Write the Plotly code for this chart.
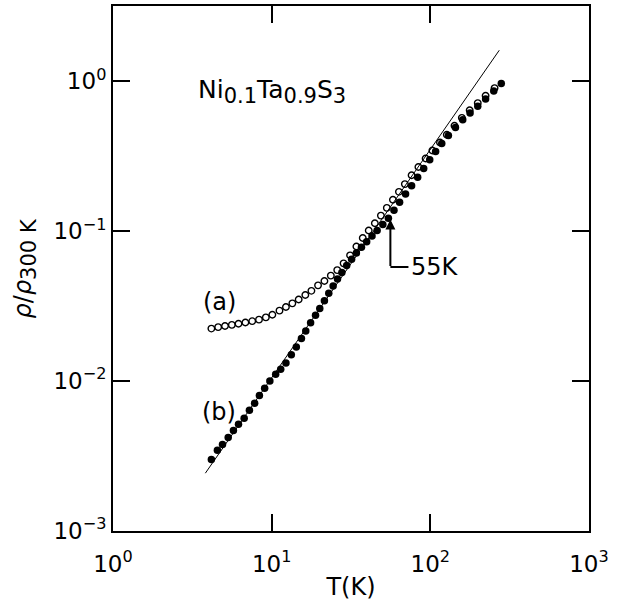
import math
import plotly.graph_objects as go

# ---- data (T in K, rho/rho300K) ----
T_a = [4.17, 4.60, 5.08, 5.61, 6.18, 6.83, 7.54, 8.32, 9.19, 10.1, 11.2, 12.3,
       13.5, 14.8, 16.3, 17.8, 19.6, 21.5, 23.6, 25.9, 28.4, 31.2, 34.2, 37.5,
       40.9, 44.7, 48.8, 53.2, 58.1, 63.4, 69.1, 76.2, 84.1, 93.4, 103, 115,
       127, 142, 158, 177, 199, 223, 254]
rho_a = [0.0224, 0.0229, 0.0233, 0.0237, 0.0241, 0.0246, 0.0251, 0.0257, 0.0266,
         0.0277, 0.0295, 0.0312, 0.0330, 0.0350, 0.0375, 0.0400, 0.0435, 0.0465,
         0.0505, 0.0550, 0.0610, 0.0690, 0.0790, 0.0900, 0.1010, 0.1130, 0.1270,
         0.1430, 0.1620, 0.1830, 0.2060, 0.2360, 0.2680, 0.3050, 0.3450, 0.3900,
         0.4400, 0.5050, 0.5700, 0.6400, 0.7150, 0.8000, 0.9000]

T_b = [4.17, 4.55, 4.90, 5.32, 5.74, 6.18, 6.71, 7.24, 7.81, 8.37, 9.03, 9.74,
       10.6, 11.4, 12.3, 13.3, 14.3, 15.4, 16.4, 17.6, 18.9, 20.1, 21.5, 22.9,
       24.4, 26.0, 27.7, 29.7, 31.9, 34.2, 36.8, 39.7, 42.9, 46.2, 50.2, 54.4,
       59.0, 64.0, 69.8, 76.2, 83.2, 90.8, 99.1, 108, 118, 130, 144, 160, 178,
       199, 223, 251, 280]
rho_b = [0.00300, 0.00346, 0.00378, 0.00420, 0.00468, 0.00516, 0.00565, 0.00640,
         0.00712, 0.00800, 0.00895, 0.0100, 0.0111, 0.0120, 0.0132, 0.0150,
         0.0169, 0.0192, 0.0216, 0.0245, 0.0275, 0.0305, 0.0343, 0.0385, 0.0430,
         0.0480, 0.0530, 0.0590, 0.0650, 0.0715, 0.0780, 0.0850, 0.0930, 0.1010,
         0.1110, 0.1220, 0.1380, 0.1560, 0.1770, 0.2010, 0.2290, 0.2620, 0.3000,
         0.3400, 0.3850, 0.4350, 0.4920, 0.5530, 0.6150, 0.6800, 0.7600, 0.8600,
         0.9660]

T_fit = [3.82, 272]
rho_fit = [0.00243, 1.61]

T_arrow = 55
x_ticks = [1, 10, 100, 1000]
x_ticktext = ["10<sup>0</sup>", "10<sup>1</sup>", "10<sup>2</sup>", "10<sup>3</sup>"]
y_ticks = [0.001, 0.01, 0.1, 1]
y_ticktext = ["10<sup>−3</sup>", "10<sup>−2</sup>", "10<sup>−1</sup>", "10<sup>0</sup>"]

FONT = "DejaVu Sans"
lt = math.log10

fig = go.Figure()
fig.add_trace(go.Scatter(x=T_fit, y=rho_fit, mode="lines",
                         line=dict(color="black", width=1), showlegend=False))
fig.add_trace(go.Scatter(x=T_b, y=rho_b, mode="markers",
                         marker=dict(symbol="circle", size=7.5, color="black",
                                     line=dict(width=0)), showlegend=False))
fig.add_trace(go.Scatter(x=T_a, y=rho_a, mode="markers",
                         marker=dict(symbol="circle-open", size=6.5, color="black",
                                     line=dict(width=1.4, color="black")),
                         showlegend=False))

fig.update_layout(
    width=625, height=607,
    margin=dict(l=113, r=36, t=4, b=76),
    paper_bgcolor="white", plot_bgcolor="white",
    font=dict(family=FONT, color="black", size=23),
    xaxis=dict(type="log", range=[0, 3], tickvals=x_ticks, ticktext=x_ticktext,
               ticks="inside", ticklen=17, tickwidth=2, tickcolor="black",
               ticklabelstandoff=11, tickfont=dict(size=23),
               showline=True, linewidth=2, linecolor="black", mirror="ticks",
               showgrid=False, zeroline=False,
               title=dict(text="T(K)", standoff=3, font=dict(size=24))),
    yaxis=dict(type="log", range=[-3, 0.502], tickvals=y_ticks, ticktext=y_ticktext,
               ticks="inside", ticklen=17, tickwidth=2, tickcolor="black",
               tickfont=dict(size=23),
               showline=True, linewidth=2, linecolor="black", mirror="ticks",
               showgrid=False, zeroline=False),
)

ann = [
    dict(x=0.52, y=-0.07, xref="x", yref="y", xanchor="left", yanchor="middle",
         text="Ni<sub><span style='font-size:21px'>0.1</span></sub>Ta"
              "<sub><span style='font-size:21px'>0.9</span></sub>S"
              "<sub><span style='font-size:21px'>3</span></sub>",
         showarrow=False, font=dict(size=25)),
    dict(x=0.671, y=-1.475, xref="x", yref="y", text="(a)", showarrow=False,
         font=dict(size=24)),
    dict(x=0.665, y=-2.203, xref="x", yref="y", text="(b)", showarrow=False,
         font=dict(size=24)),
    dict(x=1.868, y=-1.239, xref="x", yref="y", xanchor="left", text="55K",
         showarrow=False, font=dict(size=24)),
    dict(x=lt(T_arrow + 1), y=-0.922, xref="x", yref="y", text="", showarrow=True,
         ax=0, ay=48, arrowhead=2, arrowsize=1, arrowwidth=2, arrowcolor="black"),
    dict(x=-0.185, y=0.5, xref="paper", yref="paper", xanchor="center",
         yanchor="middle", textangle=-90,
         text="<i>ρ</i>/<i>ρ</i><sub><span style='font-size:21px'>300 K</span></sub>",
         showarrow=False, font=dict(size=24)),
]
fig.update_layout(annotations=ann)
fig.add_shape(type="line", xref="x", yref="y", x0=T_arrow + 1, x1=10 ** 1.862,
              y0=10 ** -1.239, y1=10 ** -1.239, line=dict(color="black", width=2))

fig.write_html("out.html")
